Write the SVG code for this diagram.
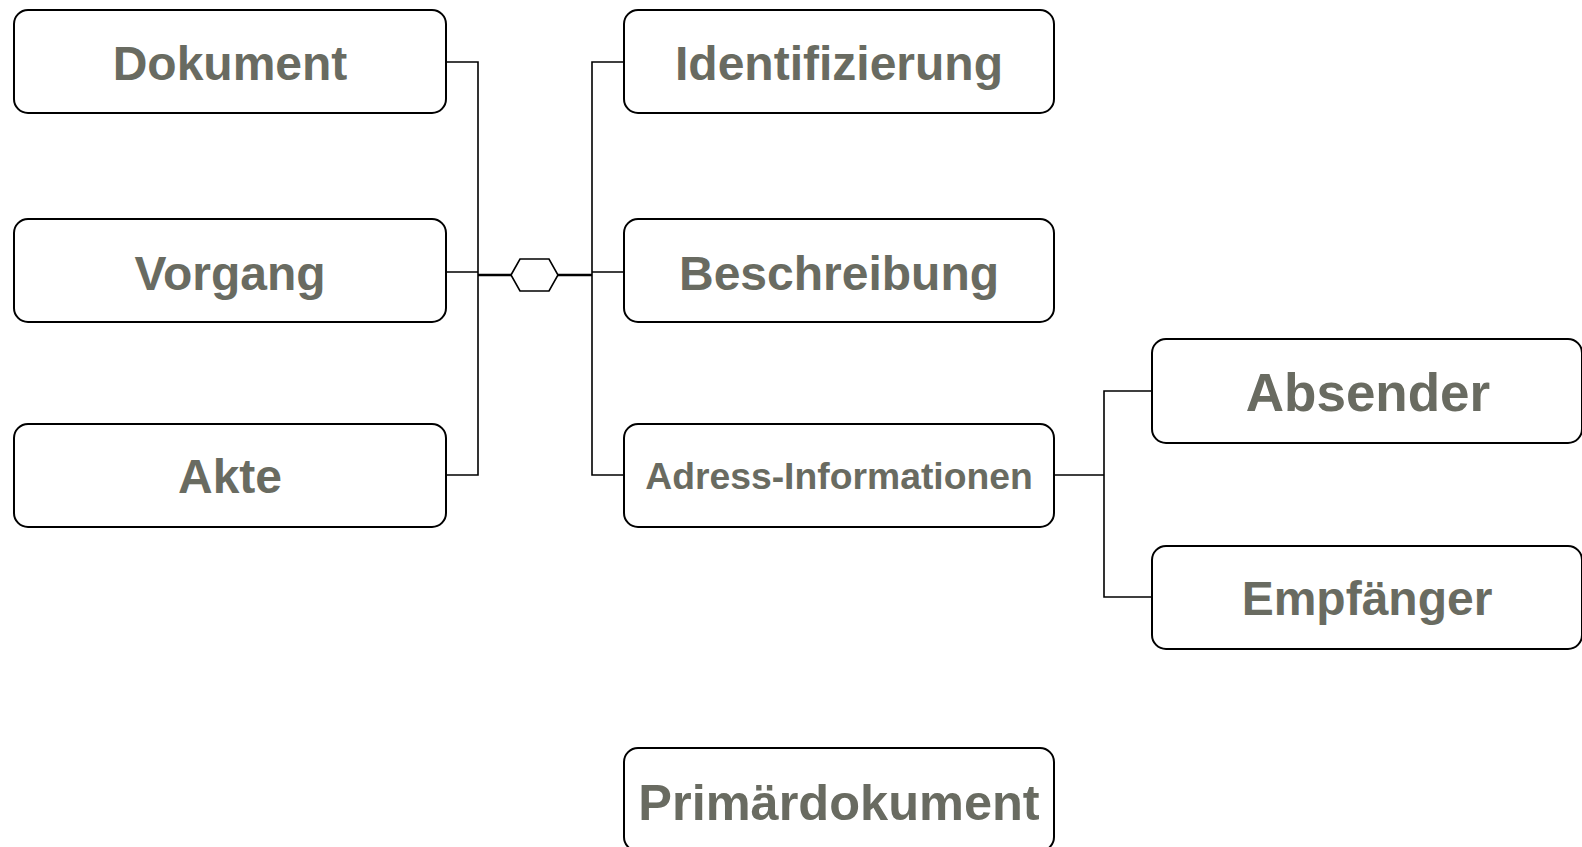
<svg xmlns="http://www.w3.org/2000/svg" width="1582" height="847" viewBox="0 0 1582 847">
<style>
.box{fill:#fff;stroke:#000;stroke-width:2}
.t{font-family:"Liberation Sans",Arial,sans-serif;font-weight:bold;fill:#696b61;text-anchor:middle}
.c{fill:none;stroke:#000;stroke-width:1.6}
.ct{fill:none;stroke:#000;stroke-width:2.4}
</style>
<rect width="1582" height="847" fill="#fff"/>
<g id="connectors">
<path class="c" d="M446,62H478V475H446M446,272H478"/>
<path class="ct" d="M478,275H511M558,275H592"/>
<polygon class="c" points="511,275 520,259 549,259 558,275 549,291 520,291" fill="#fff"/>
<path class="c" d="M624,62H592V475H624M592,272H624"/>
<path class="c" d="M1054,475H1104M1152,391H1104V597H1152"/>
</g>
<g id="dokument"><rect class="box" x="14" y="10" width="432" height="103" rx="14"/><text class="t" x="230" y="80" font-size="48">Dokument</text></g>
<g id="vorgang"><rect class="box" x="14" y="219" width="432" height="103" rx="14"/><text class="t" x="230" y="290" font-size="48">Vorgang</text></g>
<g id="akte"><rect class="box" x="14" y="424" width="432" height="103" rx="14"/><text class="t" x="230" y="493" font-size="48">Akte</text></g>
<g id="identifizierung"><rect class="box" x="624" y="10" width="430" height="103" rx="14"/><text class="t" x="839" y="80" font-size="48">Identifizierung</text></g>
<g id="beschreibung"><rect class="box" x="624" y="219" width="430" height="103" rx="14"/><text class="t" x="839" y="290" font-size="48">Beschreibung</text></g>
<g id="adress"><rect class="box" x="624" y="424" width="430" height="103" rx="14"/><text class="t" x="839" y="489" font-size="37.3">Adress-Informationen</text></g>
<g id="absender"><rect class="box" x="1152" y="339" width="430" height="104" rx="14"/><text class="t" x="1368" y="411" font-size="53">Absender</text></g>
<g id="empfaenger"><rect class="box" x="1152" y="546" width="430" height="103" rx="14"/><text class="t" x="1367" y="615" font-size="48">Empfänger</text></g>
<g id="primaerdokument"><rect class="box" x="624" y="748" width="430" height="103" rx="14"/><text class="t" x="839" y="820" font-size="50.5">Primärdokument</text></g>
</svg>
